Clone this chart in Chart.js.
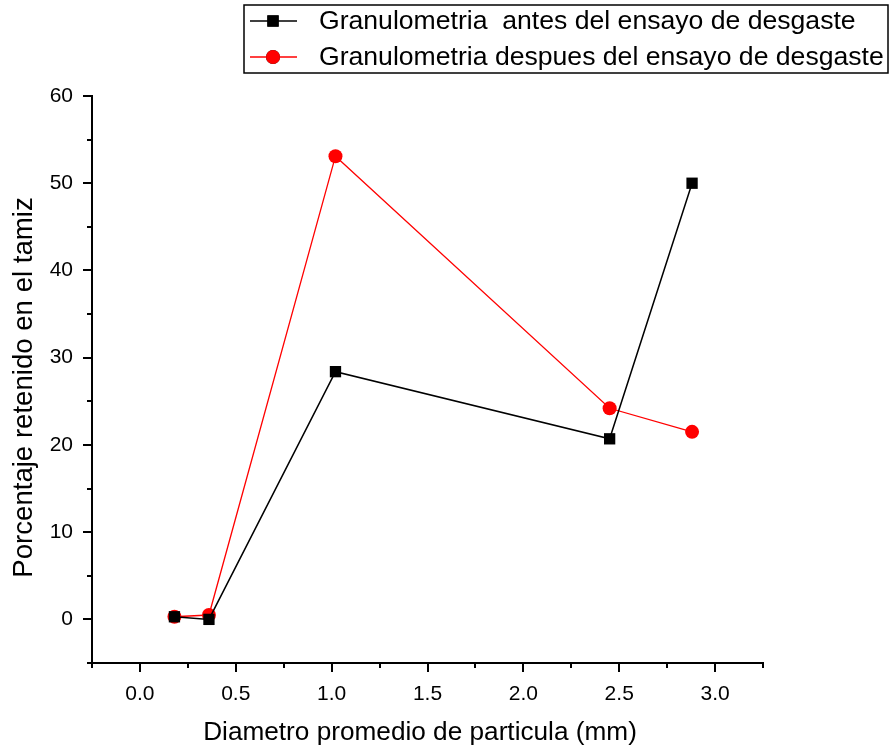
<!DOCTYPE html>
<html>
<head>
<meta charset="utf-8">
<script src="https://cdn.jsdelivr.net/npm/chart.js@4.4.0/dist/chart.umd.min.js"></script>
<style>
  html, body { margin: 0; padding: 0; background: #fff; }
  #wrap { width: 891px; height: 753px; }
</style>
</head>
<body>
<div id="wrap"><canvas id="chart" width="891" height="753"></canvas></div>
<script>
  // datos
  const diametro      = [0.18, 0.36, 1.02, 2.45, 2.88];
  const antesEnsayo   = [0.3, 0.0, 28.4, 20.7, 50.0];
  const despuesEnsayo = [0.3, 0.5, 53.1, 24.2, 21.5];
  const serieNombres  = ['Granulometria  antes del ensayo de desgaste', 'Granulometria despues del ensayo de desgaste'];
  const tituloX = 'Diametro promedio de particula (mm)';
  const tituloY = 'Porcentaje retenido en el tamiz';
  const xTicks = [0.0, 0.5, 1.0, 1.5, 2.0, 2.5, 3.0];
  const yTicks = [0, 10, 20, 30, 40, 50, 60];

  const FONT = "'Liberation Sans', Arial, sans-serif";

  // marcas de los ejes (mayores y menores)
  const tickMarks = {
    id: 'tickMarks',
    afterDraw(chart) {
      const ctx = chart.ctx;
      const xs = chart.scales.x, ys = chart.scales.y;
      const area = chart.chartArea;
      ctx.save();
      ctx.strokeStyle = '#000';
      ctx.lineWidth = 2;
      ctx.beginPath();
      xTicks.forEach(v => {
        const px = Math.round(xs.getPixelForValue(v));
        ctx.moveTo(px, area.bottom); ctx.lineTo(px, area.bottom + 9);
        const pm = Math.round(xs.getPixelForValue(v + 0.25));
        if (v + 0.25 <= xs.max) { ctx.moveTo(pm, area.bottom); ctx.lineTo(pm, area.bottom + 5); }
      });
      const p0 = Math.round(xs.getPixelForValue(xs.min));
      ctx.moveTo(p0, area.bottom); ctx.lineTo(p0, area.bottom + 5);
      yTicks.forEach(v => {
        const py = Math.round(ys.getPixelForValue(v));
        ctx.moveTo(area.left, py); ctx.lineTo(area.left - 9, py);
        const pm = Math.round(ys.getPixelForValue(v - 5));
        ctx.moveTo(area.left, pm); ctx.lineTo(area.left - 5, pm);
      });
      ctx.stroke();
      ctx.restore();
    }
  };

  // titulos de los ejes, un poco descentrados como en el original
  const titulos = {
    id: 'titulos',
    afterDraw(chart) {
      const ctx = chart.ctx;
      ctx.save();
      ctx.fillStyle = '#000';
      ctx.textAlign = 'center';
      ctx.textBaseline = 'alphabetic';
      ctx.font = '26.2px ' + FONT;
      ctx.fillText(tituloX, 420, 740);
      ctx.translate(31.5, 387.5);
      ctx.rotate(-Math.PI / 2);
      ctx.font = '27.6px ' + FONT;
      ctx.fillText(tituloY, 0, 0);
      ctx.restore();
    }
  };

  // leyenda con recuadro arriba a la derecha
  const cajaLeyenda = {
    id: 'cajaLeyenda',
    afterDraw(chart) {
      const ctx = chart.ctx;
      const box = { x: 244, y: 5, w: 644, h: 68 };
      ctx.save();
      ctx.strokeStyle = '#000';
      ctx.lineWidth = 1.5;
      ctx.strokeRect(box.x, box.y, box.w, box.h);
      ctx.font = '26.6px ' + FONT;
      ctx.textBaseline = 'middle';
      ctx.fillStyle = '#000';
      chart.data.datasets.forEach((ds, i) => {
        const cy = box.y + 16 + i * 36;
        ctx.strokeStyle = ds.borderColor;
        ctx.lineWidth = ds.borderWidth;
        ctx.beginPath(); ctx.moveTo(250, cy); ctx.lineTo(297, cy); ctx.stroke();
        Chart.helpers.drawPoint(ctx, {
          pointStyle: ds.pointStyle, radius: ds.pointRadius, borderWidth: 0
        }, 273, cy);
        ctx.fillStyle = ds.pointBackgroundColor;
        ctx.fill();
        ctx.fillStyle = '#000';
        ctx.fillText(ds.label, 319, cy + 1);
      });
      ctx.restore();
    }
  };

  new Chart(document.getElementById('chart'), {
    type: 'scatter',
    data: {
      datasets: [
        {
          label: serieNombres[0],
          data: diametro.map((d, i) => ({ x: d, y: antesEnsayo[i] })),
          showLine: true,
          borderColor: '#000',
          borderWidth: 1.5,
          pointStyle: 'rect',
          pointRadius: 8,
          pointHoverRadius: 8,
          pointBackgroundColor: '#000',
          pointBorderWidth: 0,
          clip: false
        },
        {
          label: serieNombres[1],
          data: diametro.map((d, i) => ({ x: d, y: despuesEnsayo[i] })),
          showLine: true,
          borderColor: '#ff0000',
          borderWidth: 1.3,
          pointStyle: 'circle',
          pointRadius: 7,
          pointHoverRadius: 7,
          pointBackgroundColor: '#ff0000',
          pointBorderWidth: 0,
          clip: false
        }
      ]
    },
    options: {
      responsive: false,
      animation: false,
      layout: { padding: { left: 0, right: 128, top: 96, bottom: 0 } },
      plugins: {
        legend: { display: false },
        tooltip: { enabled: false }
      },
      scales: {
        x: {
          type: 'linear',
          min: -0.25,
          max: 3.25,
          afterBuildTicks: (s) => { s.ticks = xTicks.map(v => ({ value: v })); },
          afterFit: (s) => { s.height = 90; },
          grid: { drawOnChartArea: false, drawTicks: false },
          border: { display: true, color: '#000', width: 2 },
          ticks: {
            color: '#000', padding: 19,
            font: { family: FONT, size: 21 },
            callback: (v) => v.toFixed(1)
          },
          title: { display: false }
        },
        y: {
          type: 'linear',
          min: -5,
          max: 60,
          afterBuildTicks: (s) => { s.ticks = yTicks.map(v => ({ value: v })); },
          afterFit: (s) => { s.width = 92; },
          grid: { drawOnChartArea: false, drawTicks: false },
          border: { display: true, color: '#000', width: 2 },
          ticks: {
            color: '#000', padding: 19,
            font: { family: FONT, size: 21 }
          },
          title: { display: false }
        }
      }
    },
    plugins: [tickMarks, titulos, cajaLeyenda]
  });
</script>
</body>
</html>
